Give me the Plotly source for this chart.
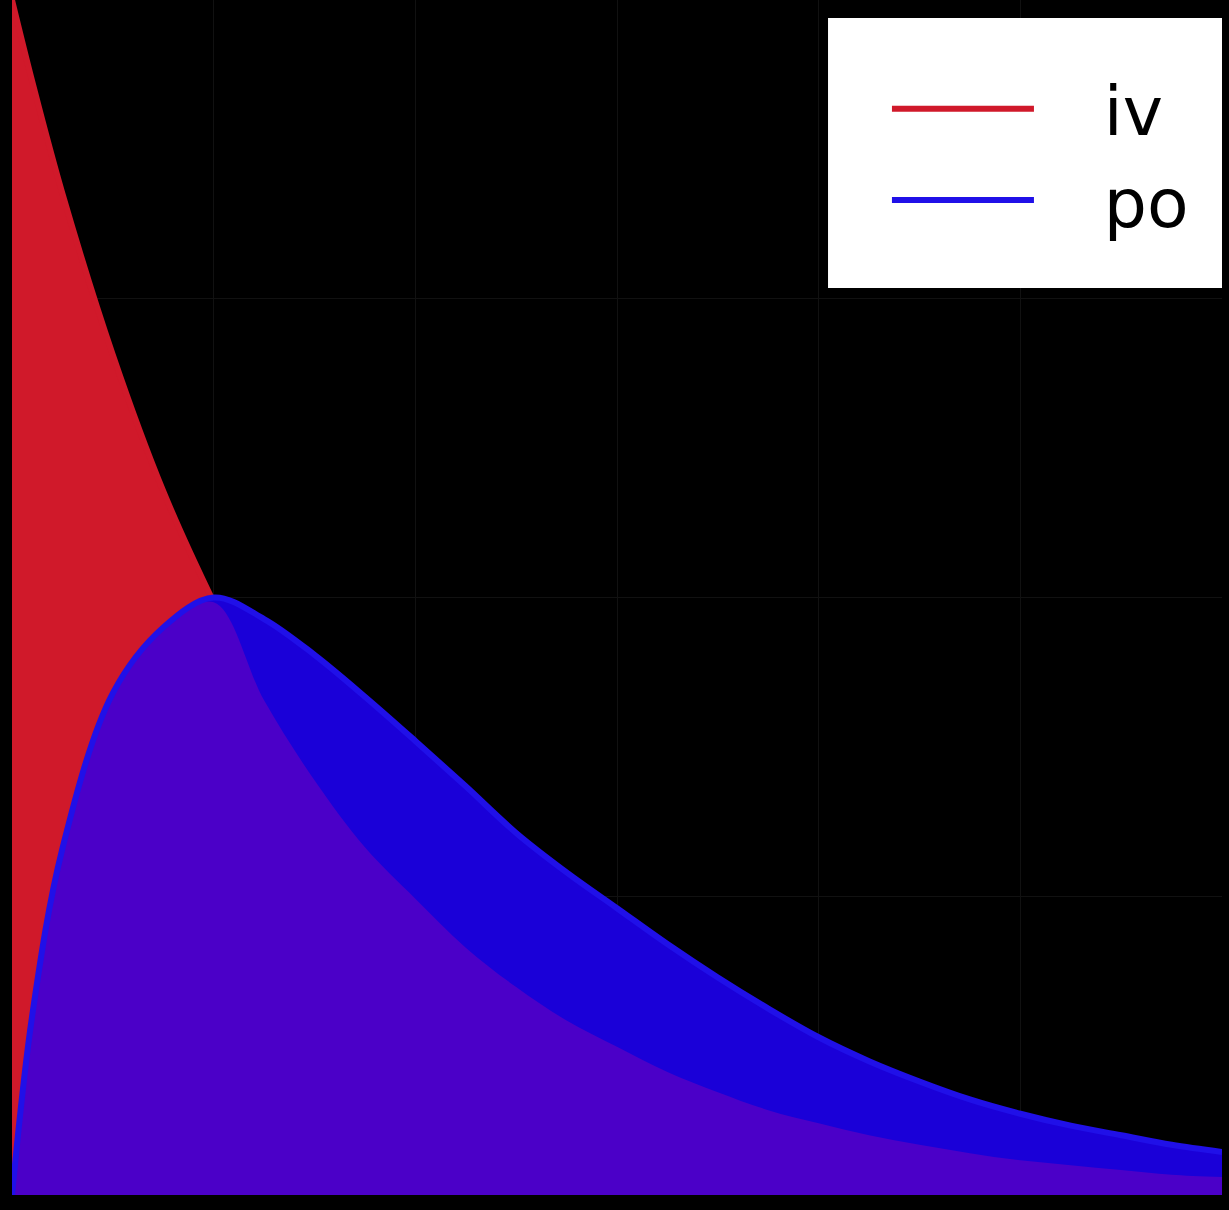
import numpy as np
import plotly.graph_objects as go

# time axis (arbitrary units)
t = [0, 0.1, 0.25, 0.5, 0.75, 1.0, 1.25, 1.5, 1.75, 2.0, 2.25, 2.5, 2.75,
     3.0, 3.25, 3.5, 3.75, 4.0, 4.25, 4.5, 4.75, 5.0, 5.25, 5.5, 5.75, 6.0]

# concentration, intravenous
iv = [1.0, 0.932, 0.838, 0.703, 0.589, 0.496, 0.414, 0.347, 0.291, 0.248,
      0.207, 0.174, 0.146, 0.124, 0.103, 0.086, 0.071, 0.060, 0.050, 0.042,
      0.035, 0.029, 0.025, 0.021, 0.017, 0.015]

# concentration, per os
po = [0.0, 0.15, 0.29, 0.42, 0.475, 0.50, 0.482, 0.452, 0.417, 0.38, 0.342,
      0.303, 0.27, 0.24, 0.21, 0.182, 0.156, 0.132, 0.112, 0.095, 0.080,
      0.068, 0.058, 0.050, 0.042, 0.036]

names = ["iv", "po"]

RED = "#D0192A"
BLUE = "#1A00D8"
PURPLE = "#4B00C8"
NB = "\u00a0"

overlap = np.minimum(np.array(iv), np.array(po))

fig = go.Figure()
fig.add_trace(go.Scatter(x=t, y=iv, mode="lines", fill="tozeroy",
                         fillcolor=RED, line=dict(width=0, color=RED, shape="spline"),
                         showlegend=False, hoverinfo="skip"))
fig.add_trace(go.Scatter(x=t, y=iv, mode="lines", name=NB * 3 + names[0],
                         line=dict(width=6, color=RED, shape="spline")))
fig.add_trace(go.Scatter(x=t, y=po, mode="lines", fill="tozeroy",
                         fillcolor=BLUE, line=dict(width=0, color=BLUE, shape="spline"),
                         showlegend=False, hoverinfo="skip"))
fig.add_trace(go.Scatter(x=t, y=overlap, mode="lines", fill="tozeroy",
                         fillcolor=PURPLE, line=dict(width=0, color=PURPLE, shape="spline"),
                         showlegend=False, hoverinfo="skip"))
fig.add_trace(go.Scatter(x=t, y=po, mode="lines", name=NB * 3 + names[1],
                         line=dict(width=6, color="#2010E8", shape="spline")))

# white legend panel
fig.add_shape(type="rect", xref="paper", yref="paper",
              x0=0.6744, x1=1.0, y0=0.759, y1=0.985,
              fillcolor="white", line=dict(width=0), layer="above")

fig.update_layout(
    width=1229, height=1210,
    margin=dict(l=12, r=7, t=0, b=15),
    paper_bgcolor="black", plot_bgcolor="black",
    xaxis=dict(range=[0, 6], dtick=1, showticklabels=False, ticks="",
               showgrid=True, gridcolor="#111111", gridwidth=1, zeroline=False),
    yaxis=dict(range=[0, 1], dtick=0.25, showticklabels=False, ticks="",
               showgrid=True, gridcolor="#111111", gridwidth=1, zeroline=False),
    legend=dict(x=0.7231, xanchor="left", y=0.9515, yanchor="top",
                bgcolor="rgba(0,0,0,0)", borderwidth=0, itemwidth=142,
                font=dict(size=68, family="DejaVu Sans", color="black"),
                tracegroupgap=0),
    showlegend=True,
)

fig.write_html("out.html")
